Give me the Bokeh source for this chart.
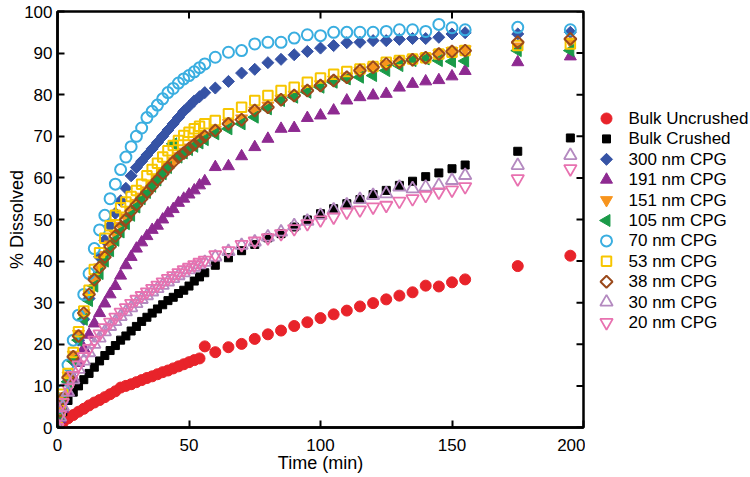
import numpy as np
from bokeh.plotting import figure
from bokeh.layouts import row
from bokeh.models import ColumnDataSource, FixedTicker, Range1d
from bokeh.core.properties import value
from bokeh.embed import file_html
from bokeh.resources import INLINE

time_min = [0, 1, 2, 4, 6, 8, 10, 12, 14, 16, 18, 20, 22, 24, 26, 28, 30, 32, 34, 36, 38, 40,
            42, 44, 46, 48, 50, 52, 54, 56, 60, 65, 70, 75, 80, 85, 90, 95, 100, 105, 110, 115,
            120, 125, 130, 135, 140, 145, 150, 155, 175, 195]

bulk_uncrushed = [0, 0.6, 1.2, 2.2, 3.0, 3.8, 4.5, 5.3, 6.0, 6.6, 7.3, 8.0, 8.7, 9.6, 10.0, 10.4,
                  10.9, 11.4, 11.9, 12.3, 12.8, 13.3, 13.7, 14.2, 14.7, 15.2, 15.7, 16.2, 16.6, 19.5,
                  18.1, 19.3, 20.1, 21.3, 22.4, 23.3, 24.4, 25.3, 26.3, 27.2, 28.1, 29.1, 29.9, 30.8,
                  31.7, 32.5, 34.1, 33.9, 34.9, 35.6, 38.8, 41.3]
bulk_crushed = [0, 2.0, 3.8, 6.5, 8.5, 10.0, 11.5, 13.0, 14.5, 16.0, 17.3, 18.5, 19.7, 21.0, 22.0,
                23.2, 24.3, 25.5, 26.5, 27.5, 28.5, 29.5, 30.5, 31.3, 32.2, 33.0, 34.0, 35.2, 36.2,
                37.2, 39.0, 40.8, 42.5, 44.0, 45.6, 46.6, 48.2, 49.9, 51.4, 52.6, 53.8, 54.8, 56.0,
                57.0, 58.2, 59.2, 60.3, 61.2, 62.2, 63.1, 66.4, 69.6]
cpg_300 = [0, 3, 6, 11, 16, 21, 26, 31, 36, 41, 45, 48.5, 51.5, 54.5, 57.5, 60.5, 62.5, 64, 65.5,
           67, 68.5, 70, 71.5, 73, 74.5, 76, 77.2, 78.5, 79.5, 80.5, 81.6, 83.2, 85.2, 86.1, 87.7,
           88.5, 89.6, 90.4, 91.2, 91.8, 92.5, 92.6, 93.0, 93.0, 93.3, 93.5, 93.5, 93.8, 94.6,
           94.9, 94.6, 95.0]
cpg_191 = [0, 2, 4.5, 8.5, 12, 15.5, 19, 22.3, 25, 27.5, 29.8, 32, 34, 36.5, 39, 41, 43, 44.5, 46,
           47.5, 48.5, 50, 51.5, 52.5, 54, 55, 56, 57, 58.2, 59.2, 62.6, 62.8, 65.2, 67.4, 69.4,
           71.8, 72.0, 74.4, 75.0, 76.2, 78.6, 79.4, 79.8, 80.2, 81.7, 82.6, 83.2, 83.5, 84.4,
           85.7, 87.8, 89.2]
cpg_151 = [0, 4, 7.5, 12.5, 17.5, 22.5, 27.5, 32, 35.5, 38.5, 41.5, 44, 46.5, 48.5, 50.5, 52.3,
           54, 55.5, 57, 58.5, 60, 61.4, 62.8, 64, 65.2, 66.3, 67.3, 68.3, 69.3, 70.2, 71.5, 73.2,
           74.3, 76.2, 77.4, 79, 80, 81.3, 82.5, 83.6, 84.4, 85.8, 86.6, 87.4, 88, 88.5, 89, 89.9,
           90.5, 90.9, 91.6, 92.8]
cpg_105 = [0, 3, 6, 11, 16, 21, 26, 30.5, 34, 37, 40, 42.5, 45, 47, 49, 51, 53, 55, 56.5, 58,
           59.5, 61, 62.5, 68.2, 65, 66, 66.8, 67.6, 68.4, 69.2, 70.6, 71.8, 73, 74.6, 76.6, 78.6,
           79.4, 80.6, 81.8, 83, 83.8, 84.2, 84.6, 85.8, 87, 88.2, 88.6, 88.2, 88, 88.1, 90.6, 90.6]
cpg_70 = [0, 5, 9, 15, 21, 27, 32, 37, 43, 47.5, 51, 55, 58.5, 62, 65, 67.5, 70, 72, 74.5, 76,
          77.5, 79, 80.5, 81.5, 82.8, 83.8, 84.6, 85.5, 86.5, 87.4, 89, 90.2, 90.6, 92.2, 92.6,
          92.6, 93.6, 94.4, 94.2, 95, 95, 95, 95, 95.2, 95.6, 95.6, 95.2, 96.9, 96.1, 95.6, 96.2,
          95.6]
cpg_53 = [0, 4, 8, 13, 18, 23, 28, 33, 38, 42, 45.5, 48.5, 51, 52.8, 54.2, 55.5, 57, 58.5, 60.5,
          62, 63.5, 65, 66.5, 67.8, 69, 70.2, 71, 71.8, 72.4, 73, 73.8, 75.4, 77, 78.6, 79.8, 81,
          81.8, 83, 84, 84.9, 85.6, 86.2, 86.8, 87.8, 88.2, 88.6, 88.9, 89.8, 90.2, 90.6, 91.8, 92.2]
cpg_38 = [0, 4, 7, 12, 17, 22, 27.5, 32, 35.5, 38.5, 41, 43.5, 46, 48, 50, 52, 53.5, 55, 56.5,
          58, 59.5, 61, 62.5, 63.8, 65, 66, 67, 68, 69, 70, 71.4, 73, 74, 76.2, 77, 78.8, 79.8,
          81, 82.2, 83.4, 84.2, 85.8, 86.6, 87.4, 87.8, 88.4, 88.9, 89.8, 90.4, 90.6, 92.6, 93.4]
cpg_30 = [0, 2.5, 5, 8.5, 11.5, 14, 16, 18, 20, 21.5, 23, 24.3, 25.5, 26.7, 27.8, 28.8, 29.8,
          30.8, 31.7, 32.6, 33.4, 34.2, 35, 35.8, 36.5, 37.2, 37.9, 38.5, 39.1, 39.7, 41, 42.3,
          43.8, 44.6, 45.8, 47, 48.5, 49.6, 51, 52.3, 53.5, 54.8, 55.8, 56.2, 57.8, 57.4, 57.8,
          58.2, 59.4, 60.6, 63, 65.4]
cpg_20 = [0, 3, 6, 9.5, 12.5, 15, 17, 19, 21, 22.5, 24, 25.3, 26.5, 27.7, 28.8, 29.8, 30.8, 31.7,
          32.6, 33.4, 34.2, 35, 35.8, 36.5, 37.2, 37.9, 38.5, 39.1, 39.7, 40.2, 41.5, 42.5, 44,
          44.8, 45.6, 46.6, 47.8, 49, 49.9, 50.6, 51.8, 52.3, 53, 53.4, 54.4, 55, 55.8, 56.6,
          57.1, 57.9, 59.8, 62.2]

series_labels = ["Bulk Uncrushed", "Bulk Crushed", "300 nm CPG", "191 nm CPG", "151 nm CPG",
                 "105 nm CPG", "70 nm CPG", "53 nm CPG", "38 nm CPG", "30 nm CPG", "20 nm CPG"]
x_ticks = [0, 50, 100, 150, 200]
y_ticks = [0, 10, 20, 30, 40, 50, 60, 70, 80, 90, 100]
x_min, x_max = 0, 200
y_min, y_max = 0, 100

series_values = [bulk_uncrushed, bulk_crushed, cpg_300, cpg_191, cpg_151, cpg_105, cpg_70,
                 cpg_53, cpg_38, cpg_30, cpg_20]

# (marker, color, filled, size, angle, line_width)
styles = [
    ("circle", "#e8232a", True, 11, 0.0, 1),
    ("square", "#000000", True, 8, 0.0, 1),
    ("square", "#3653a5", True, 8.5, np.pi / 4, 1),
    ("triangle", "#8e2a91", True, 12, 0.0, 1),
    ("inverted_triangle", "#f7941d", True, 12, 0.0, 1),
    ("triangle", "#1a9a48", True, 12, np.pi / 2, 1),
    ("circle", "#3aaee0", False, 11, 0.0, 2),
    ("square", "#f7c600", False, 9.5, 0.0, 2),
    ("square", "#9b4a1c", False, 8.5, np.pi / 4, 2),
    ("triangle", "#b48ac0", False, 12.5, 0.0, 1.8),
    ("inverted_triangle", "#e872b0", False, 12.5, 0.0, 1.8),
]

FONT = "Liberation Sans"
FRAME_W, FRAME_H = 526, 416

p = figure(frame_width=FRAME_W, frame_height=FRAME_H, output_backend="svg", toolbar_location=None,
           x_range=Range1d(x_min, x_max), y_range=Range1d(y_min, y_max),
           min_border_left=57, min_border_top=11, min_border_right=2, min_border_bottom=10)
p.xgrid.visible = False
p.ygrid.visible = False
p.outline_line_color = "black"
p.outline_line_width = 2.5
p.background_fill_color = "white"
p.border_fill_color = "white"

src = ColumnDataSource(dict(t=time_min, **{f"s{i}": v for i, v in enumerate(series_values)}))

for i, st in enumerate(styles):
    marker, color, filled, size, angle, lw = st
    p.scatter(x="t", y=f"s{i}", source=src, marker=marker, size=size, angle=angle,
              fill_color=color if filled else None, line_color=color, line_width=lw)

# mirrored inward ticks on the top and right frame edges
p.ray(x=x_ticks, y=[y_max] * len(x_ticks), length=7, length_units="screen",
      angle=-np.pi / 2, line_color="black", line_width=2)
p.ray(x=[x_max] * len(y_ticks), y=y_ticks, length=7, length_units="screen",
      angle=np.pi, line_color="black", line_width=2)

for ax in (p.xaxis[0], p.yaxis[0]):
    ax.major_tick_in = 7
    ax.major_tick_out = 0
    ax.minor_tick_line_color = None
    ax.axis_line_width = 2.5
    ax.major_tick_line_width = 2
    ax.major_label_text_font = FONT
    ax.major_label_text_font_size = "17px"
    ax.major_label_text_color = "black"
    ax.axis_label_text_font = FONT
    ax.axis_label_text_font_size = "18px"
    ax.axis_label_text_font_style = "normal"
    ax.axis_label_text_color = "black"

p.xaxis[0].ticker = FixedTicker(ticks=x_ticks)
p.yaxis[0].ticker = FixedTicker(ticks=y_ticks)
p.xaxis[0].axis_label = "Time (min)"
p.yaxis[0].axis_label = "% Dissolved"
p.xaxis[0].major_label_standoff = 11
p.xaxis[0].axis_label_standoff = -1
p.yaxis[0].major_label_standoff = 5
p.yaxis[0].axis_label_standoff = -6

# legend panel to the right of the plot (pixel-space figure, frame aligned with the plot's)
LEG_W, LEG_H = 163, 416
leg = figure(frame_width=LEG_W, frame_height=LEG_H, output_backend="svg", toolbar_location=None,
             x_range=Range1d(0, LEG_W), y_range=Range1d(LEG_H, 0),
             x_axis_type=None, y_axis_type=None, min_border=0, outline_line_color=None)
leg.background_fill_color = "white"
leg.border_fill_color = "white"

first_row, row_pitch, glyph_x, text_x = 107, 20.4, 21, 43
row_y = [first_row + row_pitch * i for i in range(len(series_labels))]
for i, st in enumerate(styles):
    marker, color, filled, size, angle, lw = st
    leg.scatter(x=[glyph_x], y=[row_y[i]], marker=marker, size=size, angle=angle,
                fill_color=color if filled else None, line_color=color, line_width=lw)
leg.text(x=[text_x] * len(series_labels), y=row_y, text=series_labels,
         text_font=value(FONT), text_font_size="17px", text_baseline="middle",
         text_align="left", text_color="black")

layout = row(p, leg, spacing=0)
open("out.html", "w").write(file_html(layout, INLINE))
